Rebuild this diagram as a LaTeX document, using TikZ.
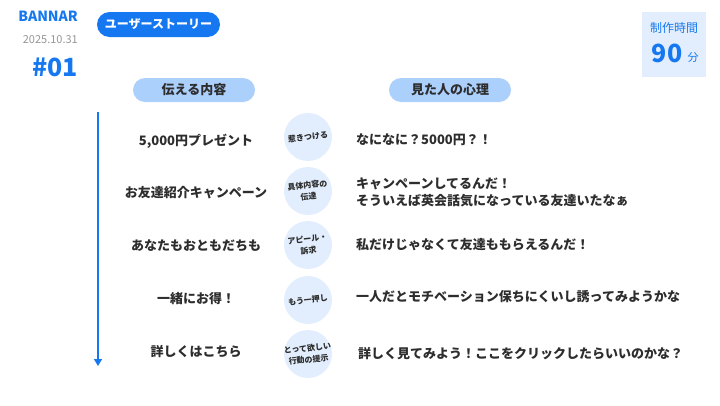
\documentclass[tikz,border=0pt]{standalone}
\usepackage{fontspec}
\setmainfont{Noto Sans CJK JP}
\usetikzlibrary{arrows.meta, positioning}

\definecolor{mainblue}{RGB}{22,120,240}
\definecolor{pillblue}{RGB}{172,208,252}
\definecolor{palefill}{RGB}{226,238,253}
\definecolor{datagray}{RGB}{150,150,150}
\definecolor{ink}{RGB}{45,45,45}

\begin{document}
\begin{tikzpicture}[
  x=1pt, y=-1pt,
  every node/.style={font=\bfseries\fontsize{13}{17}\selectfont, text=ink, align=center, inner sep=0pt},
  headpill/.style={rounded corners=12pt, fill=pillblue, minimum width=122pt, minimum height=24pt},
  tagpill/.style={rounded corners=12.5pt, fill=mainblue, text=white, minimum width=123pt, minimum height=25pt, font=\bfseries\fontsize{12}{14}\selectfont},
  mood/.style={circle, fill=palefill, minimum size=48pt},
  moodtext/.style={font=\bfseries\fontsize{8}{11.5}\selectfont, rotate=6},
  felt/.style={anchor=west, align=left},
  flow/.style={-{Triangle[width=8pt, length=7pt]}, mainblue, line width=1.4pt}
]
\useasboundingbox (0,0) rectangle (720,405);

% Title block
\node[anchor=east, text=mainblue, font=\bfseries\fontsize{14}{16}\selectfont] (title) at (78,16) {BANNAR};
\node[anchor=east, text=datagray, font=\fontsize{11}{13}\selectfont] (date) at (78,40) {2025.10.31};
\node[anchor=east, text=mainblue, font=\bfseries\fontsize{25}{28}\selectfont] (number) at (78,67) {\#01};
\node[tagpill] (tag) at (158.5,24.5) {ユーザーストーリー};

% Time box
\fill[palefill] (642,12) rectangle (706,77);
\node[text=mainblue, font=\fontsize{12}{14}\selectfont] (timelabel) at (674,28) {制作時間};
\node[text=mainblue, font=\bfseries\fontsize{25}{28}\selectfont] (minutes) at (667,53) {90};
\node[text=mainblue, font=\fontsize{11}{13}\selectfont] (unit) at (693,57) {分};

% Column heads
\node[headpill] (toldhead) at (194,90) {伝える内容};
\node[headpill] (felthead) at (450,90) {見た人の心理};

% Rows
\node (told1) at (196,141) {5,000円プレゼント};
\node (told2) at (196,193) {お友達紹介キャンペーン};
\node (told3) at (196,246) {あなたもおともだちも};
\node (told4) at (196,299) {一緒にお得！};
\node (told5) at (196,352) {詳しくはこちら};

\node[mood] (mood1) at (308,137) {};
\node[mood] (mood2) at (308,191) {};
\node[mood] (mood3) at (308,245) {};
\node[mood] (mood4) at (308,300) {};
\node[mood] (mood5) at (308,354) {};
\node[moodtext] at (mood1) {惹きつける};
\node[moodtext] at (mood2) {具体内容の\\伝達};
\node[moodtext] at (mood3) {アピール・\\訴求};
\node[moodtext] at (mood4) {もう一押し};
\node[moodtext] at (mood5) {とって欲しい\\行動の提示};

\node[felt] (felt1) at (356,140) {なになに？5000円？！};
\node[felt] (felt2) at (356,192) {キャンペーンしてるんだ！\\そういえば英会話気になっている友達いたなぁ};
\node[felt] (felt3) at (356,245) {私だけじゃなくて友達ももらえるんだ！};
\node[felt] (felt4) at (356,297) {一人だとモチベーション保ちにくいし誘ってみようかな};
\node[felt] (felt5) at (358,354) {詳しく見てみよう！ここをクリックしたらいいのかな？};

% Flow arrow
\coordinate (flowtop) at (98,112);
\coordinate (flowend) at (98,366);
\draw[flow] (flowtop) -- (flowend);

\end{tikzpicture}
\end{document}
